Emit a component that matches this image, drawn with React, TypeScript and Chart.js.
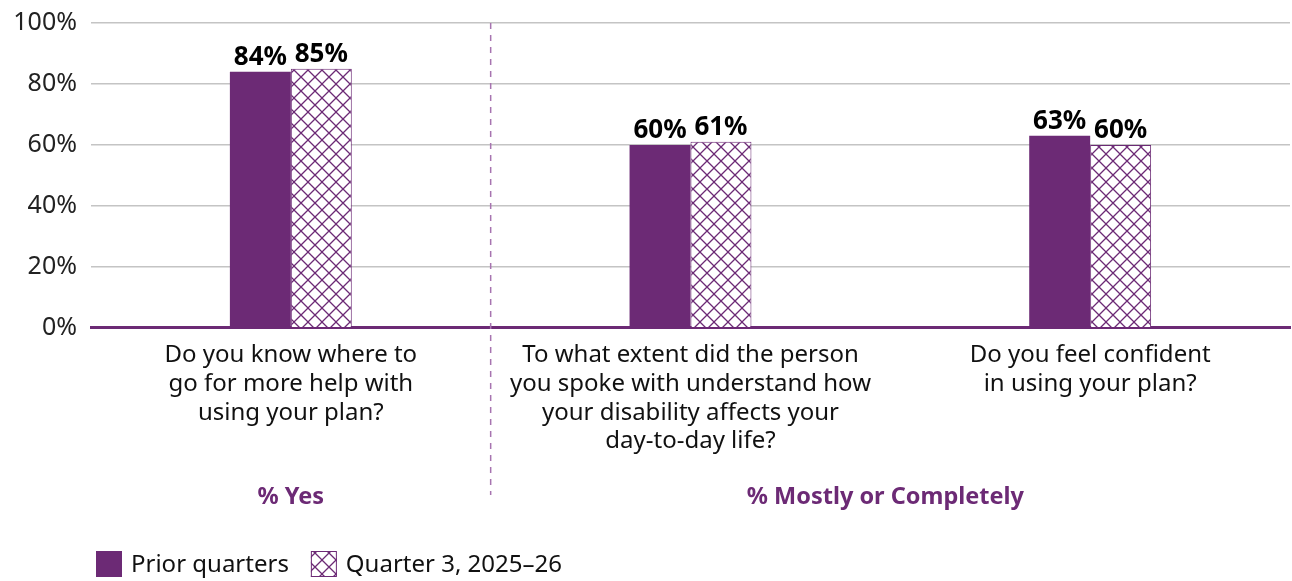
import React, { useEffect, useRef } from "react";
import { Chart, registerables } from "chart.js";

Chart.register(...registerables);

const categories: string[][] = [
  ["Do you know where to", "go for more help with", "using your plan?"],
  ["To what extent did the person", "you spoke with understand how", "your disability affects your", "day-to-day life?"],
  ["Do you feel confident", "in using your plan?"],
];
const priorQuarters = [84, 60, 63];
const currentQuarter = [85, 61, 60];
const seriesNames = ["Prior quarters", "Quarter 3, 2025–26"];
const yTicks = [0, 20, 40, 60, 80, 100];
const groupLabels = ["% Yes", "% Mostly or Completely"];

const PURPLE = "#6C2A75";
const FONT = "'Noto Sans', sans-serif";

function makeHatch(): CanvasPattern | string {
  const s = 14;
  const c = document.createElement("canvas");
  c.width = s;
  c.height = s;
  const ctx = c.getContext("2d");
  if (!ctx) return "#fff";
  ctx.fillStyle = "#ffffff";
  ctx.fillRect(0, 0, s, s);
  ctx.strokeStyle = PURPLE;
  ctx.lineWidth = 1.3;
  ctx.beginPath();
  ctx.moveTo(-2, -2);
  ctx.lineTo(s + 2, s + 2);
  ctx.moveTo(-2, s + 2);
  ctx.lineTo(s + 2, -2);
  ctx.stroke();
  const p = ctx.createPattern(c, "repeat");
  return p || "#fff";
}

export default function App() {
  const ref = useRef<HTMLCanvasElement>(null);
  useEffect(() => {
    if (!ref.current) return;
    const hatch = makeHatch();
    const overlay = {
      id: "overlay",
      afterDatasetsDraw(chart: any) {
        const ctx = chart.ctx;
        const area = chart.chartArea;
        const xs = chart.scales.x;
        ctx.save();
        // value labels
        ctx.font = `bold 26px ${FONT}`;
        ctx.fillStyle = "#000";
        ctx.textAlign = "center";
        ctx.textBaseline = "bottom";
        chart.data.datasets.forEach((ds: any, di: number) => {
          const meta = chart.getDatasetMeta(di);
          meta.data.forEach((bar: any, i: number) => {
            ctx.fillText(`${ds.data[i]}%`, bar.x, bar.y - 1);
          });
        });
        // dashed divider
        const divX = (xs.getPixelForValue(0) + xs.getPixelForValue(1)) / 2;
        ctx.strokeStyle = "#A774B0";
        ctx.lineWidth = 1.5;
        ctx.setLineDash([6, 6]);
        ctx.beginPath();
        ctx.moveTo(divX, area.top);
        ctx.lineTo(divX, 495);
        ctx.stroke();
        ctx.setLineDash([]);
        // group labels
        ctx.font = `bold 23.5px ${FONT}`;
        ctx.fillStyle = PURPLE;
        ctx.textBaseline = "middle";
        ctx.fillText(groupLabels[0], xs.getPixelForValue(0), 497);
        ctx.fillText(
          groupLabels[1],
          (xs.getPixelForValue(1) + xs.getPixelForValue(2)) / 2 - 5,
          497
        );
        // legend
        ctx.textAlign = "left";
        ctx.font = `24px ${FONT}`;
        let lx = 96;
        const ly = 551;
        seriesNames.forEach((name, i) => {
          if (i === 0) {
            ctx.fillStyle = PURPLE;
            ctx.fillRect(lx, ly, 26, 26);
          } else {
            ctx.fillStyle = hatch as any;
            ctx.fillRect(lx, ly, 26, 26);
            ctx.strokeStyle = PURPLE;
            ctx.lineWidth = 1;
            ctx.strokeRect(lx + 0.5, ly + 0.5, 25, 25);
          }
          ctx.fillStyle = "#111";
          ctx.fillText(name, lx + 35, ly + 14);
          lx += 35 + ctx.measureText(name).width + 22;
        });
        ctx.restore();
      },
    };
    const chart = new Chart(ref.current, {
      type: "bar",
      data: {
        labels: categories,
        datasets: [
          {
            label: seriesNames[0],
            data: priorQuarters,
            backgroundColor: PURPLE,
            borderColor: PURPLE,
            borderWidth: 0,
            barPercentage: 1,
            categoryPercentage: 0.305,
          },
          {
            label: seriesNames[1],
            data: currentQuarter,
            backgroundColor: hatch as any,
            borderColor: PURPLE,
            borderWidth: 1,
            barPercentage: 1,
            categoryPercentage: 0.305,
          },
        ],
      },
      options: {
        animation: false,
        responsive: false,
        maintainAspectRatio: false,
        layout: { padding: { top: 23, right: 2, bottom: 112, left: 0 } },
        plugins: {
          legend: { display: false },
          tooltip: { enabled: false },
        },
        scales: {
          x: {
            grid: { display: false, drawTicks: false },
            border: { display: true, color: PURPLE, width: 3 },
            ticks: {
              padding: 13,
              color: "#111",
              maxRotation: 0,
              autoSkip: false,
              font: { family: FONT, size: 24, lineHeight: 1.2 },
            },
          },
          y: {
            min: 0,
            max: 100,
            afterFit(scale: any) {
              scale.width = 91;
              scale.paddingTop = 0;
              scale.paddingBottom = 0;
            },
            afterBuildTicks(scale: any) {
              scale.ticks = yTicks.map((v) => ({ value: v }));
            },
            grid: { color: "#C4C4C4", lineWidth: 1.5, drawTicks: false },
            border: { display: false },
            ticks: {
              padding: 14,
              color: "#222",
              font: { family: FONT, size: 25 },
              callback: (v: any) => `${v}%`,
            },
          },
        },
      },
      plugins: [overlay],
    });
    return () => chart.destroy();
  }, []);
  return (
    <div style={{ position: "absolute", left: 0, top: 0, width: 1292, height: 581, background: "#fff" }}>
      <canvas ref={ref} width={1292} height={581} style={{ width: 1292, height: 581 }} />
    </div>
  );
}
